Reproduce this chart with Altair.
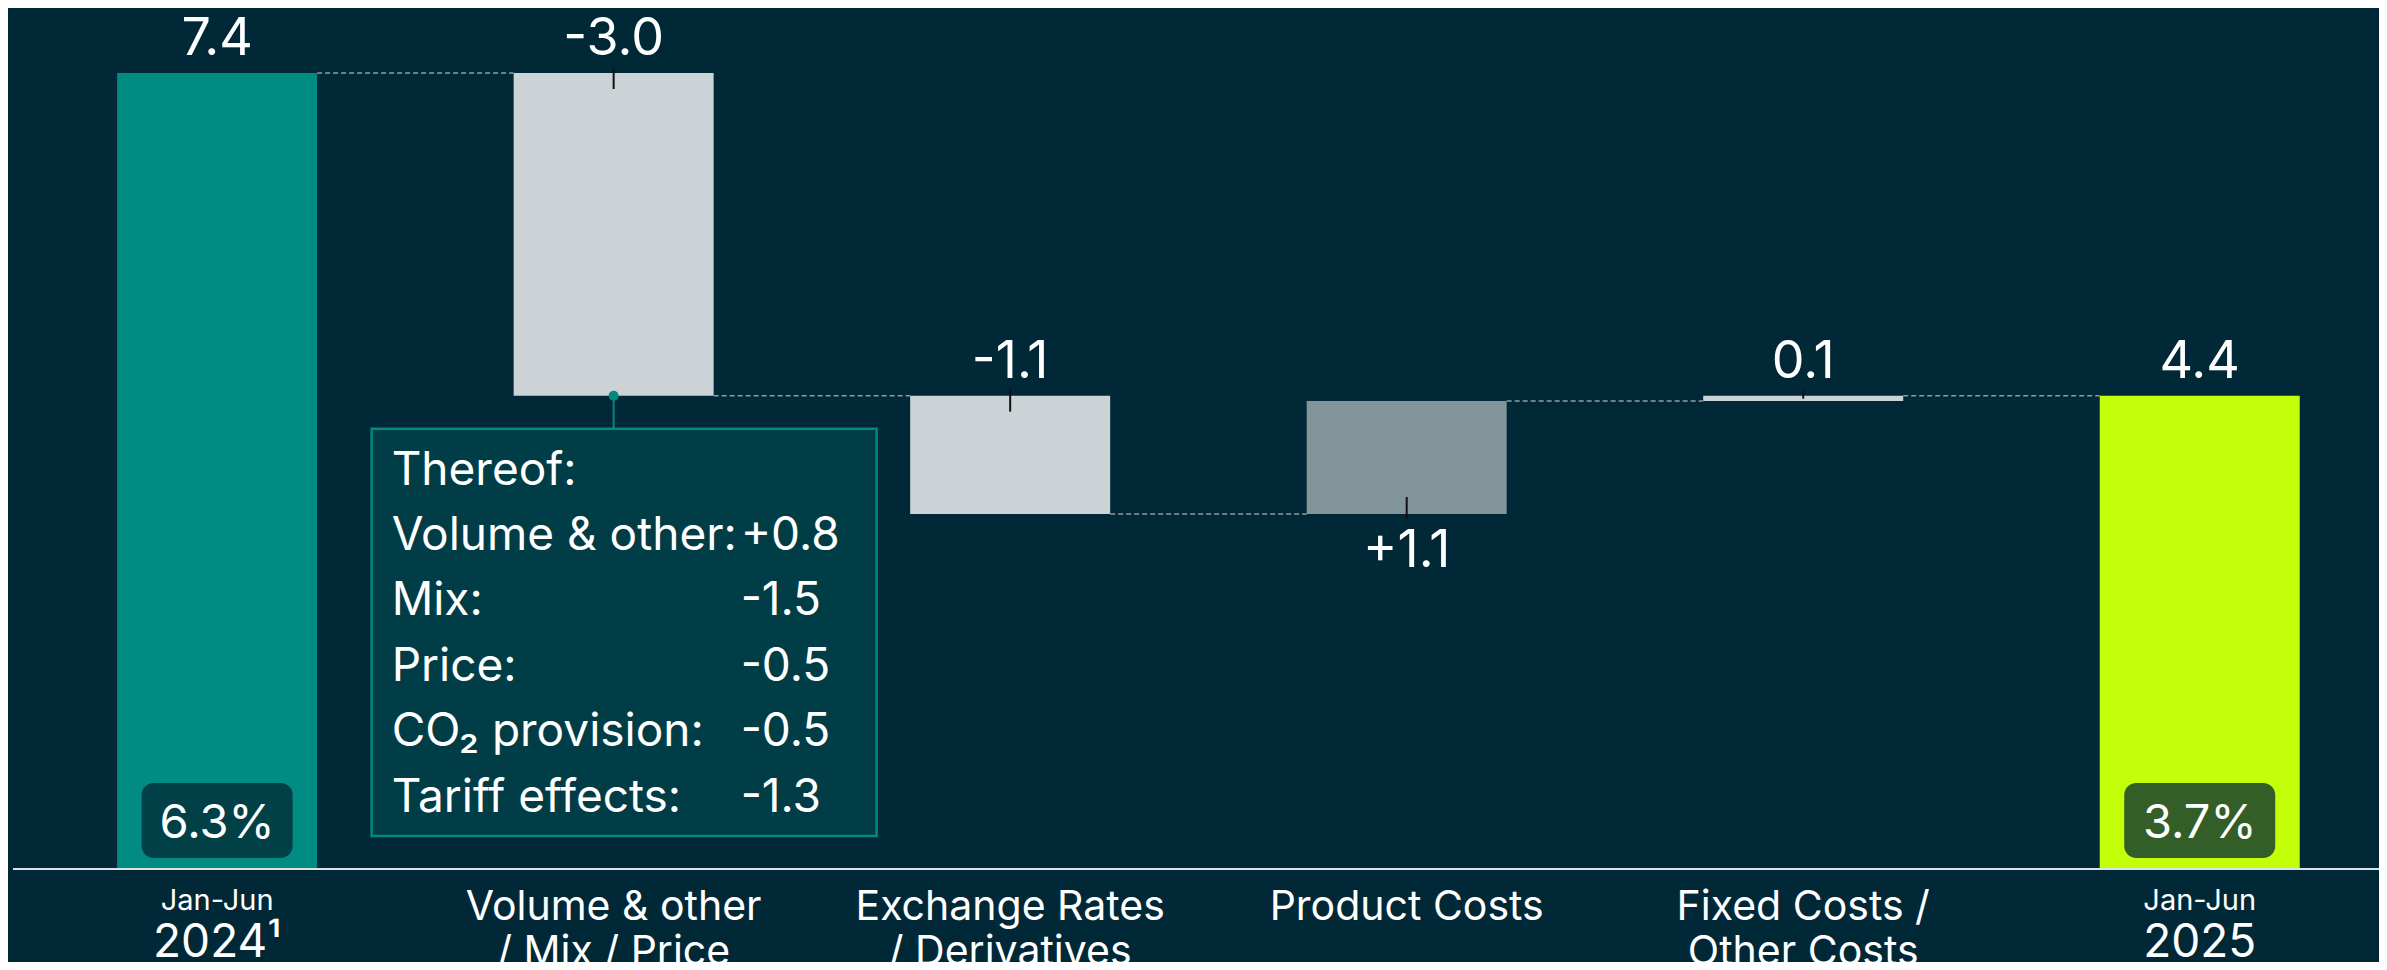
import altair as alt
import pandas as pd

# ---------------- data ----------------
cat_line1 = ["Jan-Jun", "Volume & other", "Exchange Rates", "Product Costs", "Fixed Costs /", "Jan-Jun"]
cat_line2 = ["2024\u00b9", "/ Mix / Price", "/ Derivatives", "", "Other Costs", "2025"]
start_total = 7.4
deltas = [-3.0, -1.1, 1.05, 0.05]
end_total = 4.4
value_labels = ["7.4", "-3.0", "-1.1", "+1.1", "0.1", "4.4"]
bar_colors = ["#008C82", "#CBD3D6", "#CBD3D6", "#82959A", "#CBD3D6", "#C4FF0A"]
margin_labels = ["6.3%", "3.7%"]
margin_colors = ["#024047", "#345E28"]
thereof_names = ["Thereof:", "Volume & other:", "Mix:", "Price:", "CO\u2082 provision:", "Tariff effects:"]
thereof_values = ["", "+0.8", "-1.5", "-0.5", "-0.5", "-1.3"]

# ---------------- build tables ----------------
FONT = "Inter"
BG = "#012837"
TEAL = "#00897F"

rows = []
running = start_total
rows.append(dict(i=0, lo=0.0, hi=start_total, start=start_total, end=start_total))
for k, d in enumerate(deltas, start=1):
    new = running + d
    rows.append(dict(i=k, lo=min(running, new), hi=max(running, new), start=running, end=new))
    running = new
rows.append(dict(i=len(deltas) + 1, lo=0.0, hi=end_total, start=end_total, end=end_total))
df = pd.DataFrame(rows)
df["label"] = value_labels
df["color"] = bar_colors
df["line1"] = cat_line1
df["line2"] = cat_line2
n = len(df)
df["total"] = (df["i"] == 0) | (df["i"] == n - 1)
below_idx = [3]
df["below"] = df["i"].isin(below_idx)

conn = pd.DataFrame({
    "i": df["i"][:-1].values,
    "j": df["i"][1:].values,
    "level": df["end"][:-1].values,
})

badges = pd.DataFrame({"i": [0, n - 1], "label": margin_labels, "color": margin_colors})
one = pd.DataFrame({"k": [0]})

xscale = alt.Scale(domain=[-0.5148, 5.4395], nice=False, zero=False)
yscale = alt.Scale(domain=[-0.8646, 8.004], nice=False, zero=False)
X = alt.X("i:Q", scale=xscale, axis=None)


def XD(v):
    return alt.XDatum(v, scale=xscale, axis=None)


def YD(v):
    return alt.YDatum(v, scale=yscale, axis=None)


bars = alt.Chart(df).mark_bar(width=200).encode(
    x=X,
    y=alt.Y("lo:Q", scale=yscale, axis=None),
    y2="hi:Q",
    color=alt.Color("color:N", scale=None),
)

connectors = alt.Chart(conn).mark_rule(
    color="#8F9CA1", strokeDash=[5, 3], strokeWidth=1.5, xOffset=100, x2Offset=-100
).encode(x=X, x2="j:Q", y=alt.Y("level:Q", scale=yscale, axis=None))

baseline = alt.Chart(one).mark_rule(color="#DCE2E4", strokeWidth=2).encode(
    x=alt.value(5), x2=alt.value(2371), y=YD(0)
)

badge_rect = alt.Chart(badges).mark_rect(
    cornerRadius=12, xOffset=-75.5, x2Offset=75.5, yOffset=-86, y2Offset=-11
).encode(x=X, x2="i:Q", y=YD(0), y2=alt.datum(0), color=alt.Color("color:N", scale=None))

badge_text = alt.Chart(badges).mark_text(
    font=FONT, fontSize=47, color="#FFFFFF", align="center", baseline="alphabetic", dy=-31
).encode(x=X, y=YD(0), text="label:N")

ticks_top = alt.Chart(df[df["i"].isin([1, 2])]).mark_rule(
    color="#111111", strokeWidth=2, yOffset=-6, y2Offset=16
).encode(x=X, y=alt.Y("hi:Q", scale=yscale, axis=None), y2="hi:Q")

ticks_bottom = alt.Chart(df[df["i"].isin([3])]).mark_rule(
    color="#111111", strokeWidth=2, yOffset=5, y2Offset=-17
).encode(x=X, y=alt.Y("lo:Q", scale=yscale, axis=None), y2="lo:Q")

ticks_small = alt.Chart(df[df["i"].isin([4])]).mark_rule(
    color="#111111", strokeWidth=2, yOffset=-5, y2Offset=3
).encode(x=X, y=alt.Y("hi:Q", scale=yscale, axis=None), y2="hi:Q")

stem = alt.Chart(one).mark_rule(color=TEAL, strokeWidth=2, y2Offset=33).encode(
    x=XD(1), y=YD(end_total), y2=alt.datum(end_total)
)
dot = alt.Chart(one).mark_circle(size=100, color=TEAL, opacity=1).encode(x=XD(1), y=YD(end_total))

box = alt.Chart(one).mark_rect(
    fill="#013D46", stroke=TEAL, strokeWidth=2.5,
    xOffset=-242, x2Offset=263, yOffset=33, y2Offset=-33,
).encode(x=XD(1), x2=alt.datum(1), y=YD(end_total), y2=alt.datum(0))

box_names = alt.Chart(one).mark_text(
    font=FONT, fontSize=46, color="#FFFFFF", align="left", baseline="alphabetic",
    lineHeight=65.4, dx=-222, dy=89, text=thereof_names,
).encode(x=XD(1), y=YD(end_total))

box_values = alt.Chart(one).mark_text(
    font=FONT, fontSize=46, color="#FFFFFF", align="left", baseline="alphabetic",
    lineHeight=65.4, dx=127, dy=89, text=thereof_values,
).encode(x=XD(1), y=YD(end_total))

labels_above = alt.Chart(df[~df["below"]]).mark_text(
    font=FONT, fontSize=52, color="#FFFFFF", align="center", baseline="alphabetic", dy=-18
).encode(x=X, y=alt.Y("hi:Q", scale=yscale, axis=None), text="label:N")

labels_below = alt.Chart(df[df["below"]]).mark_text(
    font=FONT, fontSize=52, color="#FFFFFF", align="center", baseline="alphabetic", dy=53
).encode(x=X, y=alt.Y("lo:Q", scale=yscale, axis=None), text="label:N")

tot = df[df["total"]]
mid = df[~df["total"]]
tot1 = alt.Chart(tot).mark_text(font=FONT, fontSize=29, color="#FFFFFF", align="center",
                                baseline="alphabetic").encode(x=X, y=alt.value(902), text="line1:N")
tot2 = alt.Chart(tot).mark_text(font=FONT, fontSize=46, color="#FFFFFF", align="center",
                                baseline="alphabetic").encode(x=X, y=alt.value(949), text="line2:N")
mid1 = alt.Chart(mid).mark_text(font=FONT, fontSize=41, color="#FFFFFF", align="center",
                                baseline="alphabetic").encode(x=X, y=alt.value(912), text="line1:N")
mid2 = alt.Chart(mid).mark_text(font=FONT, fontSize=41, color="#FFFFFF", align="center",
                                baseline="alphabetic").encode(x=X, y=alt.value(957), text="line2:N")

chart = alt.layer(
    bars, connectors, baseline, badge_rect, badge_text,
    ticks_top, ticks_bottom, ticks_small, stem, dot, box, box_names, box_values,
    labels_above, labels_below, tot1, tot2, mid1, mid2,
).properties(
    width=2371, height=954, autosize=alt.AutoSizeParams(type="none"), padding=0
).configure(background=BG).configure_view(stroke=None)

chart.save("out.html", embed_options={"renderer": "svg", "actions": False})
